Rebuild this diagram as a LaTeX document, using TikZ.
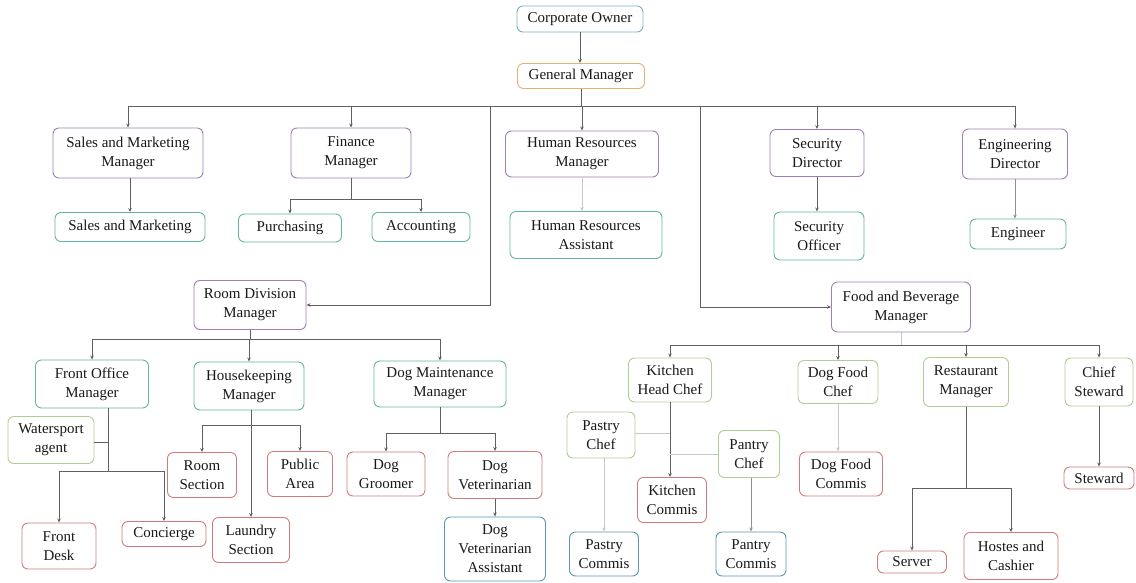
\documentclass[tikz,border=0pt]{standalone}
\usepackage{fontspec}
\setmainfont{Liberation Serif}
\usetikzlibrary{arrows.meta}
\definecolor{cTeal}{HTML}{7FAFC0}
\definecolor{cOrange}{HTML}{E8B070}
\definecolor{cPurple}{HTML}{9E80B4}
\definecolor{cGreen}{HTML}{62B89C}
\definecolor{cLight}{HTML}{B0CC98}
\definecolor{cRed}{HTML}{D47A7A}
\definecolor{cBlue}{HTML}{5A96B4}
\definecolor{cLine}{HTML}{606060}
\definecolor{cFaint}{HTML}{C4C8CC}
\begin{document}
\begin{tikzpicture}[x=1pt,y=-1pt,
 box/.style={draw=#1, rounded corners=6pt, line width=0.9pt, align=center, inner sep=0pt, font=\fontsize{15}{19}\selectfont, text=black!90},
 sz/.style 2 args={minimum width=#1pt, minimum height=#2pt},
 ln/.style={draw=cLine, line width=0.8pt},
 fl/.style={draw=cFaint, line width=0.8pt},
 arr/.style={ln, -{Stealth[length=4pt,width=3.5pt]}},
 farr/.style={fl, -{Stealth[length=4pt,width=3.5pt]}},
 ]
\fill[white] (0,0) rectangle (1136,582);
\useasboundingbox (0,0) rectangle (1136,582);

% top
\node[box=cTeal, sz={126}{26}] (co) at (580,19) {Corporate Owner};
\node[box=cOrange, sz={127}{25}] (gm) at (581,76) {General Manager};
% level 2
\node[box=cPurple, sz={150}{50}] (smm) at (128,153) {Sales and Marketing\\Manager};
\node[box=cPurple, sz={120}{50}] (fm) at (351,153) {Finance\\Manager};
\node[box=cPurple, sz={153}{46}] (hrm) at (582,154) {Human Resources\\Manager};
\node[box=cPurple, sz={94}{47}] (sd) at (817,153) {Security\\Director};
\node[box=cPurple, sz={105}{50}] (ed) at (1015,154) {Engineering\\Director};
% level 3
\node[box=cGreen, sz={150}{29}] (sm) at (130,227) {Sales and Marketing};
\node[box=cGreen, sz={103}{28}] (pur) at (290,228) {Purchasing};
\node[box=cGreen, sz={98}{29}] (acc) at (421,227) {Accounting};
\node[box=cGreen, sz={152}{47}] (hra) at (586,235) {Human Resources\\Assistant};
\node[box=cGreen, sz={90}{48}] (so) at (819,236) {Security\\Officer};
\node[box=cGreen, sz={96}{30}] (eng) at (1018,234) {Engineer};
% divisions
\node[box=cPurple, sz={112}{49}] (rdm) at (250,305) {Room Division\\Manager};
\node[box=cPurple, sz={139}{50}] (fb) at (901,307) {Food and Beverage\\Manager};
% room division children
\node[box=cGreen, sz={113}{48}] (fom) at (92,384) {Front Office\\Manager};
\node[box=cGreen, sz={110}{48}] (hkm) at (249,386) {Housekeeping\\Manager};
\node[box=cGreen, sz={132}{46}] (dmm) at (440,384) {Dog Maintenance\\Manager};
\node[box=cLight, sz={86}{47}] (wa) at (51,440) {Watersport\\agent};
\node[box=cRed, sz={74}{46}] (fd) at (59,546) {Front\\Desk};
\node[box=cRed, sz={84}{25}] (con) at (164,534) {Concierge};
\node[box=cRed, sz={69}{45}] (rs) at (202,475) {Room\\Section};
\node[box=cRed, sz={65}{45}] (pa) at (300,474) {Public\\Area};
\node[box=cRed, sz={77}{45}] (ls) at (251,540) {Laundry\\Section};
\node[box=cRed, sz={78}{44}] (dg) at (386,474) {Dog\\Groomer};
\node[box=cRed, sz={94}{47}] (dv) at (495,475) {Dog\\Veterinarian};
\node[box=cBlue, sz={101}{64}] (dva) at (495,549) {Dog\\Veterinarian\\Assistant};
% food and beverage children
\node[box=cLight, sz={83}{44}] (khc) at (670,380) {Kitchen\\Head Chef};
\node[box=cLight, sz={80}{43}] (dfc) at (838,382) {Dog Food\\Chef};
\node[box=cLight, sz={85}{49}] (rm) at (966,382) {Restaurant\\Manager};
\node[box=cLight, sz={68}{48}] (cs) at (1099,382) {Chief\\Steward};
\node[box=cLight, sz={68}{46}] (pc) at (601,435) {Pastry\\Chef};
\node[box=cLight, sz={61}{47}] (pac) at (749,454) {Pantry\\Chef};
\node[box=cRed, sz={69}{45}] (kc) at (672,500) {Kitchen\\Commis};
\node[box=cBlue, sz={69}{44}] (pco) at (604,554) {Pastry\\Commis};
\node[box=cBlue, sz={70}{44}] (paco) at (751,554) {Pantry\\Commis};
\node[box=cRed, sz={83}{44}] (dfco) at (841,474) {Dog Food\\Commis};
\node[box=cRed, sz={69}{22}] (srv) at (912,562) {Server};
\node[box=cRed, sz={94}{47}] (hc) at (1011,556) {Hostes and\\Cashier};
\node[box=cRed, sz={70}{22}] (stw) at (1099,478) {Steward};

% bus levels
\coordinate (b1) at (0,106);
\coordinate (bf) at (0,199);
\coordinate (br) at (0,339);
\coordinate (bfo) at (0,471);
\coordinate (bwa) at (0,442);
\coordinate (bhk) at (0,425);
\coordinate (bdm) at (0,433);
\coordinate (bfb) at (0,345);
\coordinate (bpc) at (0,433);
\coordinate (bpa) at (0,454);
\coordinate (brm) at (0,488);
\coordinate (l1) at (490,106);
\coordinate (l2) at (700,106);
\coordinate (fos) at (108,0);

% connectors top
\draw[arr] (co.south) -- (co.south |- gm.north);
\draw[ln] (gm.south) -- (gm |- b1);
\draw[ln] (smm |- b1) -- (ed |- b1);
\draw[arr] (smm |- b1) -- (smm.north);
\draw[arr] (fm |- b1) -- (fm.north);
\draw[arr] (hrm |- b1) -- (hrm.north);
\draw[arr] (sd |- b1) -- (sd.north);
\draw[arr] (ed |- b1) -- (ed.north);
\draw[arr] (sm.north |- smm.south) -- (sm.north);
\draw[ln] (fm.south) -- (fm |- bf);
\draw[ln] (pur |- bf) -- (acc |- bf);
\draw[arr] (pur |- bf) -- (pur.north);
\draw[arr] (acc |- bf) -- (acc.north);
\draw[farr] (hrm.south) -- (hrm.south |- hra.north);
\draw[arr] (sd.south) -- (sd.south |- so.north);
\draw[farr, draw=cLine!70] (ed.south) -- (ed.south |- eng.north);
\draw[arr] (l1) |- (rdm.east);
\draw[arr] (l2) |- (fb.west);

% room division
\draw[ln] (rdm.south) -- (rdm |- br);
\draw[ln] (fom |- br) -- (dmm |- br);
\draw[arr] (fom |- br) -- (fom.north);
\draw[arr] (hkm |- br) -- (hkm.north);
\draw[arr] (dmm |- br) -- (dmm.north);
\draw[ln] (fos |- fom.south) -- (fos |- bfo);
\draw[ln] (fos |- bwa) -- (wa.east |- bwa);
\draw[ln] (fd |- bfo) -- (con |- bfo);
\draw[arr] (fd |- bfo) -- (fd.north);
\draw[arr] (con |- bfo) -- (con.north);
\draw[arr] (ls |- hkm.south) -- (ls.north);
\draw[ln] (rs |- bhk) -- (pa |- bhk);
\draw[arr] (rs |- bhk) -- (rs.north);
\draw[arr] (pa |- bhk) -- (pa.north);
\draw[ln] (dmm.south) -- (dmm |- bdm);
\draw[ln] (dg |- bdm) -- (dv |- bdm);
\draw[arr] (dg |- bdm) -- (dg.north);
\draw[arr] (dv |- bdm) -- (dv.north);
\draw[arr] (dv) -- (dva);

% food and beverage
\draw[fl] (fb.south) -- (fb |- bfb);
\draw[ln] (khc |- bfb) -- (cs |- bfb);
\draw[arr] (khc |- bfb) -- (khc.north);
\draw[arr] (dfc |- bfb) -- (dfc.north);
\draw[arr] (rm |- bfb) -- (rm.north);
\draw[arr] (cs |- bfb) -- (cs.north);
\draw[arr] (khc.south) -- (khc.south |- kc.north);
\draw[fl] (khc |- bpc) -- (pc.east |- bpc);
\draw[fl] (khc |- bpa) -- (pac.west |- bpa);
\draw[farr] (pc.south -| pco) -- (pco.north);
\draw[farr, draw=cLine!70] (pac.south -| paco) -- (paco.north);
\draw[farr] (dfc.south) -- (dfc.south |- dfco.north);
\draw[ln] (rm.south) -- (rm |- brm);
\draw[ln] (srv |- brm) -- (hc |- brm);
\draw[arr] (srv |- brm) -- (srv.north);
\draw[arr] (hc |- brm) -- (hc.north);
\draw[arr] (cs) -- (stw);
\end{tikzpicture}
\end{document}
